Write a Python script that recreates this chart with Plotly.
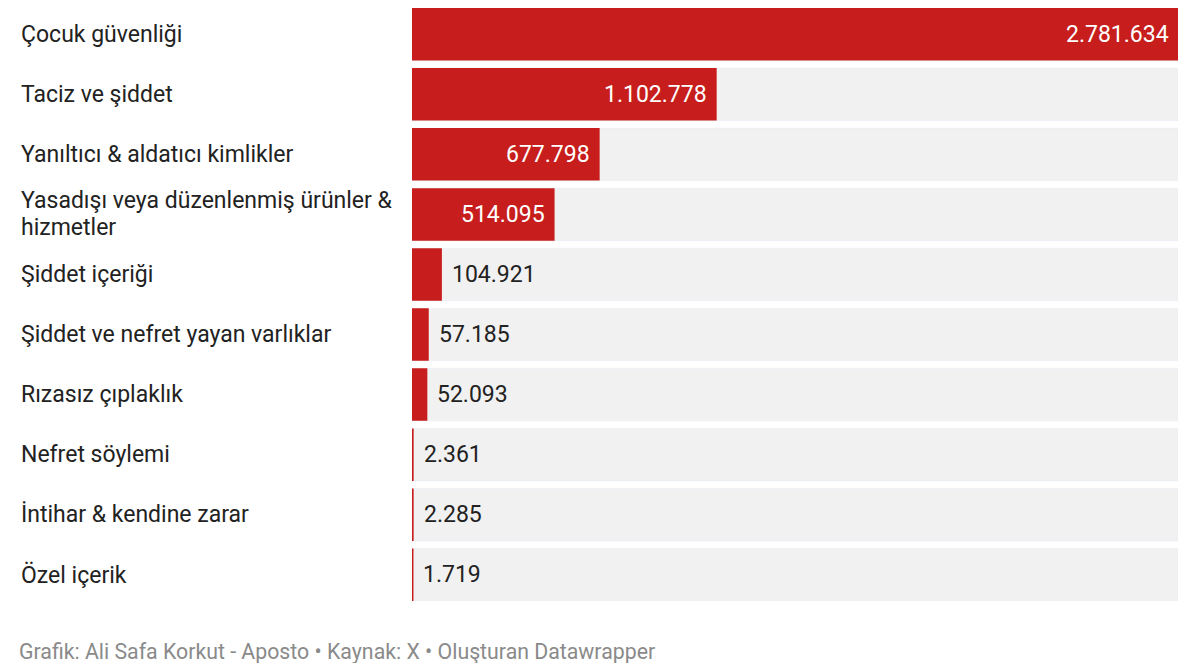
import plotly.graph_objects as go

# Data
categories = [
    "Çocuk güvenliği",
    "Taciz ve şiddet",
    "Yanıltıcı & aldatıcı kimlikler",
    "Yasadışı veya düzenlenmiş ürünler &<br>hizmetler",
    "Şiddet içeriği",
    "Şiddet ve nefret yayan varlıklar",
    "Rızasız çıplaklık",
    "Nefret söylemi",
    "İntihar & kendine zarar",
    "Özel içerik",
]
values = [2781634, 1102778, 677798, 514095, 104921, 57185, 52093, 2361, 2285, 1719]

RED = "#c71e1d"
GREY_BG = "#f1f1f1"
TEXT = "#222222"
max_val = max(values)

W, H = 1192, 655  # page has an 8px body margin
ROW = 60.06

def fmt(v):
    return f"{v:,}".replace(",", ".")

fig = go.Figure()

# light grey track behind each bar
fig.add_trace(go.Bar(
    y=categories, x=[max_val] * len(categories), orientation="h",
    marker=dict(color=GREY_BG), width=52.5 / ROW, hoverinfo="skip",
))
fig.add_trace(go.Bar(
    y=categories, x=values, orientation="h",
    marker=dict(color=RED, line=dict(color=RED, width=2)), width=50.5 / ROW,
))

# value labels: inside (white) for long bars, outside (dark) for short ones
for cat, v in zip(categories, values):
    inside = v > max_val * 0.15
    fig.add_annotation(
        x=v, y=cat, xref="x", yref="y", text=fmt(v), showarrow=False,
        xanchor="right" if inside else "left", xshift=-7 if inside else 9,
        font=dict(family="Roboto", size=23, color="white" if inside else TEXT),
    )

# category labels on the left (wrapped ones drawn line by line, tighter spacing)
for cat in categories:
    lines = cat.split("<br>")
    n = len(lines)
    for i, line in enumerate(lines):
        fig.add_annotation(
            x=11 / W, y=cat, xref="paper", yref="y", text=line, showarrow=False,
            xanchor="left", align="left", yshift=((n - 1) / 2 - i) * 27,
            font=dict(family="Roboto", size=23, color=TEXT),
        )

fig.add_annotation(
    x=9 / W, y=0, xref="paper", yref="paper", yshift=-50,
    text="Grafik: Ali Safa Korkut - Aposto • Kaynak: X • Oluşturan Datawrapper",
    showarrow=False, xanchor="left", yanchor="middle",
    font=dict(family="Roboto", size=21.3, color="#8a8a8a"),
)

top = -26.25 / ROW
fig.update_layout(
    width=W, height=H,
    barmode="overlay", showlegend=False,
    plot_bgcolor="white", paper_bgcolor="white",
    margin=dict(l=0, r=0, t=0, b=62),
    xaxis=dict(domain=[404 / W, 1170 / W], range=[0, max_val],
               visible=False, fixedrange=True),
    yaxis=dict(range=[top + 593 / ROW, top], visible=False, fixedrange=True),
)

fig.write_html("out.html")
